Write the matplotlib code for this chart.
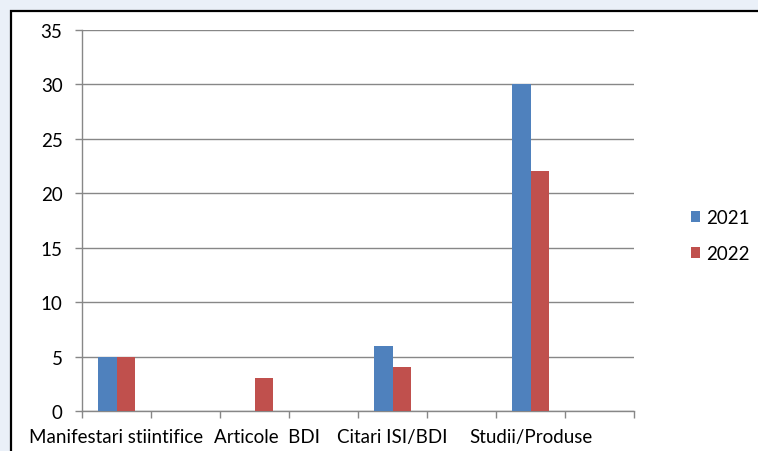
import matplotlib.pyplot as plt
import matplotlib.patches as mpatches
import matplotlib.transforms as mtransforms
import numpy as np

plt.rcParams['font.family'] = ['Lato', 'DejaVu Sans']

# 8 slots on the axis, Excel only shows every second label
categories = ["Manifestari stiintifice", "", "Articole  BDI", "",
              "Citari ISI/BDI", "", "Studii/Produse", ""]
values_2021 = [5, 0, 0, 0, 6, 0, 30, 0]
values_2022 = [5, 0, 3, 0, 4, 0, 22, 0]
series_names = ["2021", "2022"]
y_ticks = [0, 5, 10, 15, 20, 25, 30, 35]

BLUE = "#4F81BD"
RED = "#C0504D"
GRID = "#878787"
FS = 13.5

fig = plt.figure(figsize=(7.58, 4.52), dpi=100)
fig.patch.set_facecolor("#eaf0f8")

# white chart area with black frame
frame = mpatches.Rectangle((11 / 758, -0.05), 1.0, 1.05 - 12 / 452,
                           transform=fig.transFigure, facecolor="white",
                           edgecolor="black", linewidth=1.6, zorder=-5)
fig.patches.append(frame)

ax = fig.add_axes([82 / 758, 1 - 412 / 452, 552 / 758, (412 - 30.7) / 452])
ax.set_zorder(2)
ax.patch.set_alpha(0)

x = np.arange(len(categories))
w = 0.275
ax.bar(x - w / 2, values_2021, w, color=BLUE, label=series_names[0], zorder=3)
ax.bar(x + w / 2, values_2022, w, color=RED, label=series_names[1], zorder=3)

ax.set_xlim(-0.5, len(categories) - 0.5)
ax.set_ylim(0, 35)
ax.set_yticks(y_ticks)
ax.yaxis.grid(True, color=GRID, linewidth=1)
ax.set_axisbelow(True)

# boundary ticks (major) and centred labels (minor)
ax.set_xticks(np.arange(len(categories) + 1) - 0.5)
ax.set_xticklabels([])
ax.set_xticks(x, minor=True)
ax.set_xticklabels(categories, minor=True)
ax.tick_params(axis="x", which="major", length=5, color=GRID, width=1)
ax.tick_params(axis="x", which="minor", length=0, pad=12, labelsize=FS,
               colors="black")
ax.tick_params(axis="y", length=5, color=GRID, width=1, pad=9, labelsize=FS)

# Excel nudged the second label to the right so it clears the first one
lbl = ax.get_xticklabels(minor=True)[2]
lbl.set_transform(lbl.get_transform() +
                  mtransforms.ScaledTranslation(0.12, 0, fig.dpi_scale_trans))

for s in ["top", "right"]:
    ax.spines[s].set_visible(False)
for s in ["left", "bottom"]:
    ax.spines[s].set_color(GRID)
    ax.spines[s].set_linewidth(1)

ax.legend(loc="center left", bbox_to_anchor=(1.103, 0.46), frameon=False,
          borderaxespad=0, borderpad=0,
          handlelength=0.5, handleheight=0.5, handletextpad=0.3,
          labelspacing=1.0, fontsize=FS)

fig.savefig("out.png", dpi=100, facecolor=fig.get_facecolor())
